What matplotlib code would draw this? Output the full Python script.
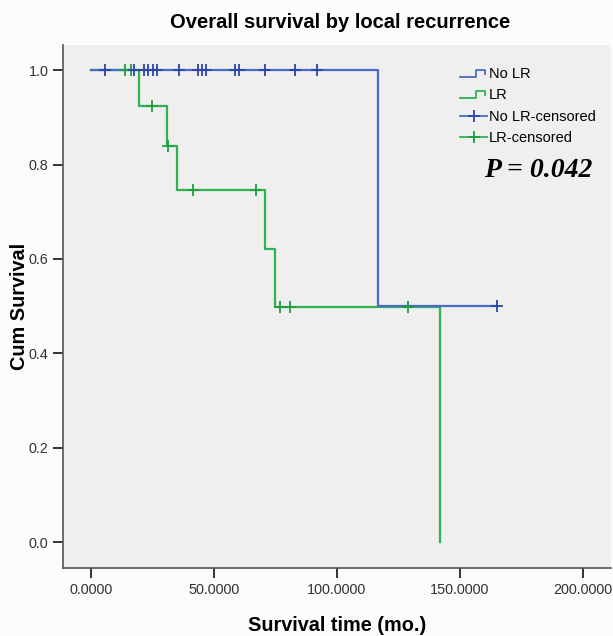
import matplotlib
matplotlib.use("Agg")
import matplotlib.pyplot as plt
from matplotlib.lines import Line2D
from matplotlib.legend_handler import HandlerBase

# Kaplan-Meier step data (time in months, cumulative survival)
no_lr_times = [0.0, 116.9, 165.1]
no_lr_surv = [1.0, 0.5, 0.5]
lr_times = [0.0, 19.7, 30.8, 34.9, 70.8, 75.0, 142.0]
lr_surv = [1.0, 0.924, 0.839, 0.746, 0.622, 0.498, 0.0]

# censored observations
no_lr_cens_t = [5.7, 17.6, 21.6, 23.3, 25.1, 26.7, 35.8, 43.7, 45.1, 46.7,
                58.6, 60.2, 70.8, 83.0, 91.9, 165.1]
no_lr_cens_s = [1.0] * 15 + [0.5]
lr_cens_t = [13.8, 16.2, 24.7, 31.5, 41.6, 67.0, 76.9, 81.0, 128.9]
lr_cens_s = [1.0, 1.0, 0.924, 0.839, 0.746, 0.746, 0.498, 0.498, 0.498]

x_ticks = [0, 50, 100, 150, 200]
y_ticks = [0.0, 0.2, 0.4, 0.6, 0.8, 1.0]

blue = "#4a6cc6"
blue_dark = "#2c45a8"
green = "#2fb351"
green_dark = "#1e9e40"

plt.rcParams["font.family"] = ["Liberation Sans", "DejaVu Sans"]


class StepHandler(HandlerBase):
    # legend key drawn as a small step, like SPSS survival plots
    def create_artists(self, legend, orig_handle, xdescent, ydescent,
                       width, height, fontsize, trans):
        x0, y0 = -xdescent, -ydescent
        xs = [x0, x0 + 0.6 * width, x0 + 0.6 * width, x0 + 0.92 * width, x0 + 0.92 * width]
        ys = [y0 + 0.1 * height, y0 + 0.1 * height, y0 + 0.8 * height,
              y0 + 0.8 * height, y0 + 0.4 * height]
        line = Line2D(xs, ys, color=orig_handle.get_color(), lw=1.3)
        line.set_transform(trans)
        return [line]


fig = plt.figure(figsize=(6.13, 6.36), dpi=100, facecolor="#fdfcfb")
ax = fig.add_axes([0.1028, 0.1069, 0.894, 0.822])
ax.set_facecolor("#efefef")

l_lr, = ax.step(lr_times, lr_surv, where="post", color=green, lw=1.6)
l_no, = ax.step(no_lr_times, no_lr_surv, where="post", color=blue, lw=1.6)
ax.plot(lr_cens_t, lr_cens_s, ls="none", marker="+", ms=8, mew=1.3, color=green_dark)
ax.plot(no_lr_cens_t, no_lr_cens_s, ls="none", marker="+", ms=8, mew=1.3, color=blue_dark)

ax.set_xlim(-11.4, 211.6)
ax.set_ylim(-0.055, 1.053)
ax.set_xticks(x_ticks)
ax.set_xticklabels([f"{v:.4f}" for v in x_ticks])
ax.set_yticks(y_ticks)
ax.set_yticklabels([f"{v:.1f}" for v in y_ticks])
ax.tick_params(axis="both", direction="out", length=7, width=1.4,
               color="#333333", labelsize=10.4, labelcolor="#333333")

for side in ["top", "right"]:
    ax.spines[side].set_visible(False)
for side in ["left", "bottom"]:
    ax.spines[side].set_color("#555555")
    ax.spines[side].set_linewidth(1.2)

ax.set_xlabel("Survival time (mo.)", fontsize=14.3, fontweight="bold", labelpad=14)
ax.set_ylabel("Cum Survival", fontsize=14.3, fontweight="bold", labelpad=0)
fig.suptitle("Overall survival by local recurrence", fontsize=14.5,
             fontweight="bold", x=0.555, y=0.98)

# censored keys in the legend: a short line with a cross in the middle
cens_no_key = Line2D([], [], color=blue, lw=1.3, marker="+", ms=9, mew=1.3,
                     markeredgecolor=blue_dark)
cens_lr_key = Line2D([], [], color=green, lw=1.3, marker="+", ms=9, mew=1.3,
                     markeredgecolor=green_dark)

leg = ax.legend([l_no, l_lr, cens_no_key, cens_lr_key],
                ["No LR", "LR", "No LR-censored", "LR-censored"],
                handler_map={l_no: StepHandler(), l_lr: StepHandler()},
                loc="upper left", bbox_to_anchor=(0.7245, 0.958), frameon=False,
                fontsize=10.5, handlelength=1.85, handletextpad=0.14,
                labelspacing=0.5, borderaxespad=0, borderpad=0)

ax.text(0.867, 0.761, "P = 0.042", transform=ax.transAxes, ha="center",
        va="center", fontsize=20, fontweight="bold", style="italic",
        family=["Liberation Serif", "DejaVu Serif"])

fig.savefig("out.png", dpi=100, facecolor=fig.get_facecolor())
